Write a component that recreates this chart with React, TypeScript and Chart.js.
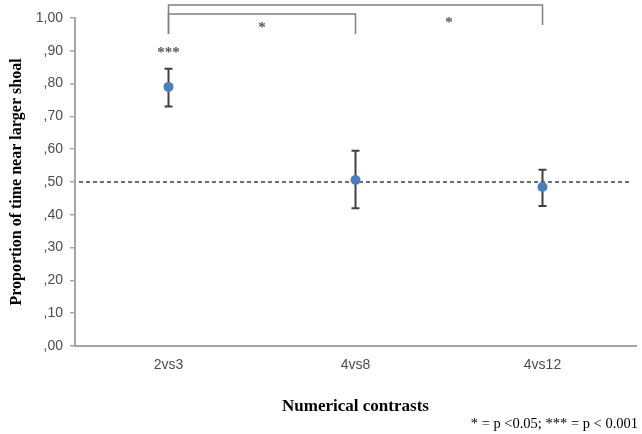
import React, { useEffect, useRef } from "react";
import { Chart, registerables } from "chart.js";

Chart.register(...registerables);

const categories = ["2vs3", "4vs8", "4vs12"];
const means = [0.79, 0.506, 0.485];
const upper = [0.845, 0.595, 0.537];
const lower = [0.73, 0.42, 0.427];
const chanceLevel = 0.5;
const pointStars = ["***", "", ""];
// brackets: [fromIndex, toIndex, topValue, leftDropValue, rightDropValue, label, labelValue]
const bracketFrom = [0, 0];
const bracketTo = [2, 1];
const bracketTop = [1.04, 1.012];
const bracketLeftEnd = [0.951, 0.951];
const bracketRightEnd = [0.979, 0.951];
const bracketLabels = ["*", "*"];
const bracketLabelPos = [1.5, 0.5];
const bracketLabelValue = [0.995, 0.979];
const footnote = "* = p <0.05; *** = p < 0.001";

const fmt = (v: number) => {
  const s = v.toFixed(2).replace(".", ",");
  return s.startsWith("0") ? s.slice(1) : s;
};

const overlay = {
  id: "overlay",
  afterDatasetsDraw(chart: any) {
    const { ctx, chartArea, scales } = chart;
    const x = scales.x;
    const y = scales.y;
    const xAt = (i: number) => {
      const a = x.getPixelForValue(Math.floor(i));
      const b = x.getPixelForValue(Math.ceil(i));
      return a + (b - a) * (i - Math.floor(i));
    };
    ctx.save();
    // chance line
    ctx.strokeStyle = "#404040";
    ctx.lineWidth = 1.5;
    ctx.setLineDash([4, 3]);
    ctx.beginPath();
    const yc = y.getPixelForValue(chanceLevel);
    ctx.moveTo(chartArea.left + 4, yc);
    ctx.lineTo(chartArea.right - 4, yc);
    ctx.stroke();
    ctx.setLineDash([]);
    // error bars
    ctx.strokeStyle = "#404040";
    ctx.lineWidth = 2;
    for (let i = 0; i < categories.length; i++) {
      const px = x.getPixelForValue(i);
      const yt = y.getPixelForValue(upper[i]);
      const yb = y.getPixelForValue(lower[i]);
      ctx.beginPath();
      ctx.moveTo(px, yt);
      ctx.lineTo(px, yb);
      ctx.moveTo(px - 4, yt);
      ctx.lineTo(px + 4, yt);
      ctx.moveTo(px - 4, yb);
      ctx.lineTo(px + 4, yb);
      ctx.stroke();
    }
    // points on top
    ctx.fillStyle = "#4a7ebf";
    for (let i = 0; i < categories.length; i++) {
      ctx.beginPath();
      ctx.arc(x.getPixelForValue(i), y.getPixelForValue(means[i]), 5, 0, Math.PI * 2);
      ctx.fill();
    }
    // brackets
    ctx.strokeStyle = "#808080";
    ctx.lineWidth = 1.5;
    for (let k = 0; k < bracketFrom.length; k++) {
      const x1 = xAt(bracketFrom[k]);
      const x2 = xAt(bracketTo[k]);
      const yt = y.getPixelForValue(bracketTop[k]);
      ctx.beginPath();
      ctx.moveTo(x1, y.getPixelForValue(bracketLeftEnd[k]));
      ctx.lineTo(x1, yt);
      ctx.lineTo(x2, yt);
      ctx.lineTo(x2, y.getPixelForValue(bracketRightEnd[k]));
      ctx.stroke();
    }
    // stars
    ctx.fillStyle = "#595959";
    ctx.font = "bold 15px 'Liberation Serif'";
    ctx.textAlign = "center";
    ctx.textBaseline = "middle";
    for (let k = 0; k < bracketLabels.length; k++) {
      ctx.fillText(bracketLabels[k], xAt(bracketLabelPos[k]), y.getPixelForValue(bracketLabelValue[k]) + 3);
    }
    for (let i = 0; i < categories.length; i++) {
      if (pointStars[i]) ctx.fillText(pointStars[i], x.getPixelForValue(i), y.getPixelForValue(0.902) + 3);
    }
    // footnote
    ctx.fillStyle = "#000000";
    ctx.font = "14.5px 'Liberation Serif'";
    ctx.textAlign = "right";
    ctx.textBaseline = "middle";
    ctx.fillText(footnote, chart.width - 4, 424);
    ctx.restore();
  },
};

export default function App() {
  const ref = useRef<HTMLCanvasElement>(null);
  useEffect(() => {
    document.body.style.margin = "0";
    const chart = new Chart(ref.current!, {
      type: "line",
      data: {
        labels: categories,
        datasets: [
          {
            data: means,
            showLine: false,
            pointRadius: 0,
            borderColor: "#4a7ebf",
            backgroundColor: "#4a7ebf",
          },
        ],
      },
      options: {
        animation: false,
        responsive: false,
        layout: { padding: { top: 18, right: 6, left: 0, bottom: 0 } },
        plugins: { legend: { display: false }, tooltip: { enabled: false } },
        scales: {
          x: {
            type: "category",
            offset: true,
            grid: { display: false, drawTicks: false },
            border: { display: true, color: "#a6a6a6", width: 2 },
            ticks: { color: "#4d4d4d", font: { size: 14, family: "'Liberation Sans'" }, padding: 11 },
            title: {
              display: true,
              text: "Numerical contrasts",
              color: "#000000",
              font: { size: 17, weight: "bold", family: "'Liberation Serif'" },
              padding: { top: 0, bottom: 17 },
            },
            afterFit: (s: any) => {
              s.height = 88;
            },
          },
          y: {
            min: 0,
            max: 1,
            ticks: {
              stepSize: 0.1,
              color: "#4d4d4d",
              font: { size: 14, family: "'Liberation Sans'" },
              padding: 7,
              callback: (v: any) => fmt(Number(v)),
            },
            grid: { display: true, drawOnChartArea: false, drawTicks: true, tickLength: 5, color: "#a6a6a6", lineWidth: 1.5 },
            border: { display: true, color: "#a6a6a6", width: 2 },
            title: {
              display: true,
              text: "Proportion of time near larger shoal",
              color: "#000000",
              font: { size: 16, weight: "bold", family: "'Liberation Serif'" },
              padding: { top: 7, bottom: 0 },
            },
            afterFit: (s: any) => {
              s.width = 75;
            },
          },
        },
      },
      plugins: [overlay],
    } as any);
    return () => chart.destroy();
  }, []);
  return (
    <div style={{ width: 642, height: 434 }}>
      <canvas ref={ref} width={642} height={434} style={{ display: "block" }} />
    </div>
  );
}
